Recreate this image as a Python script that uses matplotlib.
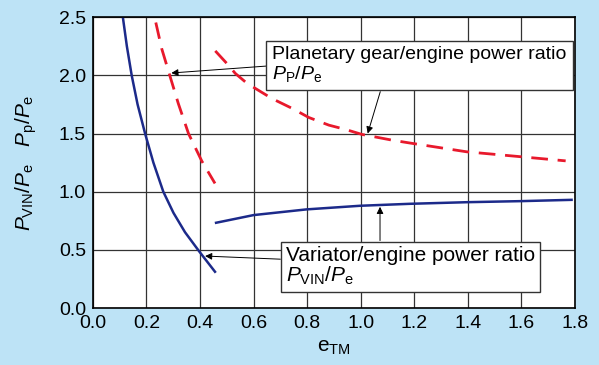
import matplotlib
matplotlib.use('Agg')
from matplotlib import pyplot as plt

# blue solid curves (variator / engine power ratio)
vin_low_x = [0.112, 0.127, 0.145, 0.167, 0.195, 0.226, 0.263, 0.301, 0.344, 0.398, 0.456]
vin_low_y = [2.50, 2.25, 2.00, 1.75, 1.50, 1.25, 1.00, 0.818, 0.652, 0.484, 0.312]
vin_high_x = [0.46, 0.6, 0.798, 0.997, 1.184, 1.4, 1.6, 1.787]
vin_high_y = [0.733, 0.799, 0.848, 0.879, 0.896, 0.91, 0.919, 0.93]

# red dashed curves (planetary gear / engine power ratio)
pp_low_x = [0.235, 0.257, 0.288, 0.319, 0.357, 0.407, 0.456]
pp_low_y = [2.454, 2.23, 1.993, 1.758, 1.50, 1.262, 1.071]
pp_high_x = [0.457, 0.501, 0.532, 0.569, 0.607, 0.669, 0.744, 0.806, 0.881, 0.943,
             1.005, 1.117, 1.179, 1.395, 1.6, 1.765]
pp_high_y = [2.21, 2.10, 2.016, 1.944, 1.887, 1.80, 1.716, 1.638, 1.572, 1.535,
             1.492, 1.443, 1.42, 1.343, 1.30, 1.265]

xticks = [0.0, 0.2, 0.4, 0.6, 0.8, 1.0, 1.2, 1.4, 1.6, 1.8]
yticks = [0.0, 0.5, 1.0, 1.5, 2.0, 2.5]

plt.rcParams['font.family'] = ['Liberation Sans', 'DejaVu Sans']
plt.rcParams['mathtext.fontset'] = 'custom'
plt.rcParams['mathtext.rm'] = 'Liberation Sans'
plt.rcParams['mathtext.it'] = 'Liberation Sans:italic'

bg = '#bde3f6'
blue = '#1c2a8a'
red = '#e8192c'

fig = plt.figure(figsize=(5.99, 3.65), dpi=100, facecolor=bg)
ax = fig.add_axes([0.155, 0.156, 0.805, 0.797])

ax.plot(vin_low_x, vin_low_y, color=blue, lw=1.8)
ax.plot(vin_high_x, vin_high_y, color=blue, lw=1.8)
ax.plot(pp_low_x, pp_low_y, color=red, lw=2.0, dashes=(6, 3.5), dash_capstyle='butt')
ax.plot(pp_high_x, pp_high_y, color=red, lw=2.0, dashes=(6, 3.5), dash_capstyle='butt')

ax.set_xlim(0, 1.8)
ax.set_ylim(0, 2.5)
ax.set_xticks(xticks)
ax.set_yticks(yticks)
ax.set_xticklabels(['%.1f' % v for v in xticks])
ax.set_yticklabels(['%.1f' % v for v in yticks])
ax.tick_params(labelsize=14, length=0, pad=5)
ax.grid(True, color='#333333', lw=0.9)
ax.set_axisbelow(True)
for s in ax.spines.values():
    s.set_linewidth(1.2)
    s.set_color('black')

ax.set_xlabel(r'$\mathrm{e}_{\mathrm{TM}}$', fontsize=15, labelpad=4)
ax.set_ylabel(r'$P_{\mathrm{VIN}}/P_{\mathrm{e}}\quad P_{\mathrm{p}}/P_{\mathrm{e}}$',
              fontsize=15, labelpad=14)

box = dict(boxstyle='square,pad=0.3', fc='white', ec='#333333', lw=1.0)
arrow = dict(arrowstyle='-|>', color='black', lw=0.7, mutation_scale=10, shrinkA=0, shrinkB=0)

ax.text(0.67, 2.09, 'Planetary gear/engine power ratio\n' + r'$P_{\mathrm{P}}/P_{\mathrm{e}}$',
        fontsize=14, va='center', ha='left', bbox=box, linespacing=1.05, zorder=5)
ax.annotate('', xy=(0.293, 2.02), xytext=(0.65, 2.08), arrowprops=arrow, zorder=4)
ax.annotate('', xy=(1.026, 1.5), xytext=(1.073, 1.86), arrowprops=arrow, zorder=4)

ax.text(0.72, 0.361, 'Variator/engine power ratio\n' + r'$P_{\mathrm{VIN}}/P_{\mathrm{e}}$',
        fontsize=15, va='center', ha='left', bbox=dict(box, boxstyle='square,pad=0.25'),
        linespacing=0.98, zorder=5)
ax.annotate('', xy=(0.419, 0.447), xytext=(0.70, 0.42), arrowprops=arrow, zorder=4)
ax.annotate('', xy=(1.072, 0.87), xytext=(1.072, 0.58), arrowprops=arrow, zorder=4)

fig.savefig('out.png', dpi=100, facecolor=bg)
